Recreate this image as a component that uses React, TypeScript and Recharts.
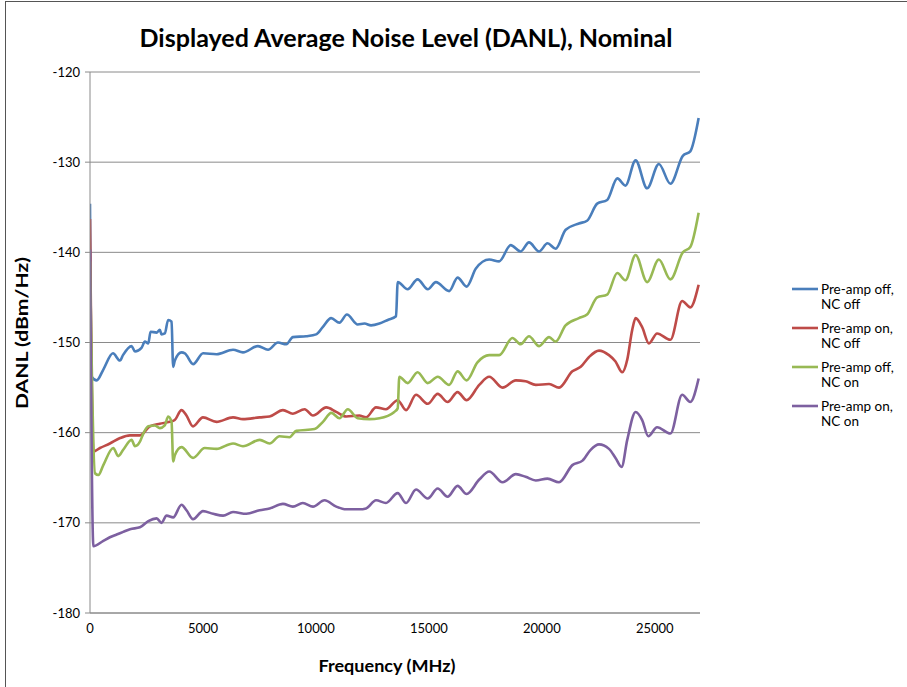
import { LineChart, Line, XAxis, YAxis, CartesianGrid } from 'recharts';

// [frequency MHz, DANL dBm/Hz]
const preampOffNcOff: [number, number][] = [
  [0, -134.6], [75, -153.8], [296, -154.2], [590, -153.0], [1016, -151.2], [1325, -152.0], [1460, -151.4],
  [1840, -150.4], [1990, -151.0], [2280, -150.6], [2430, -149.9], [2580, -150.1], [2680, -148.8], [2945, -148.9],
  [3090, -148.6], [3165, -149.1], [3310, -149.0], [3460, -147.5], [3610, -147.7], [3680, -152.7], [3755, -152.0],
  [4050, -151.1], [4200, -151.2], [4565, -152.4], [5005, -151.2], [5600, -151.3], [6330, -150.8], [6770, -151.1],
  [7435, -150.4], [7880, -150.8], [8320, -150.0], [8690, -150.2], [8980, -149.4], [9570, -149.3], [10010, -149.1],
  [10300, -148.3], [10675, -147.3], [11040, -147.8], [11370, -146.9], [11850, -148.0], [12150, -147.9],
  [12440, -148.1], [12810, -147.9], [13180, -147.5], [13545, -147.1], [13620, -143.3], [14060, -144.1],
  [14500, -143.0], [14950, -144.1], [15310, -143.3], [15900, -144.3], [16270, -142.8], [16670, -143.8],
  [17080, -141.8], [17670, -140.8], [18110, -141.0], [18620, -139.2], [19060, -139.9], [19430, -138.9],
  [19880, -139.9], [20250, -139.0], [20610, -139.6], [21055, -137.5], [21640, -136.8], [22000, -136.5],
  [22450, -134.6], [22890, -134.2], [23340, -131.8], [23700, -132.6], [24150, -129.8], [24660, -132.9],
  [25180, -130.2], [25690, -132.4], [26240, -129.3], [26570, -128.8], [26940, -125.1],
];

const preampOnNcOff: [number, number][] = [
  [0, -136.3], [150, -162.1], [440, -161.7], [880, -161.2], [1330, -160.6], [1770, -160.3], [2210, -160.3],
  [2650, -159.3], [3090, -159.0], [3530, -158.8], [3750, -158.6], [4050, -157.5], [4270, -158.1], [4560, -159.3],
  [5000, -158.3], [5600, -158.8], [6330, -158.3], [6770, -158.5], [7510, -158.3], [7950, -158.2], [8540, -157.5],
  [8980, -157.9], [9500, -157.4], [9870, -158.1], [10460, -157.2], [10900, -157.7], [11340, -158.2],
  [11920, -158.1], [12220, -158.3], [12660, -157.2], [13100, -157.4], [13620, -156.4], [13990, -157.5],
  [14430, -155.8], [14950, -156.8], [15390, -155.7], [15830, -156.6], [16270, -155.5], [16670, -156.4],
  [17230, -154.7], [17670, -153.8], [18260, -155.0], [18850, -154.2], [19280, -154.3], [19730, -154.7],
  [20320, -154.6], [20760, -155.0], [21350, -153.2], [21720, -152.7], [22090, -151.6], [22530, -150.9],
  [22970, -151.4], [23260, -152.1], [23560, -153.3], [23780, -151.9], [24000, -148.6], [24150, -147.3],
  [24440, -148.3], [24740, -150.1], [25100, -149.0], [25690, -149.7], [26210, -145.4], [26570, -146.1],
  [26940, -143.6],
];

const preampOffNcOn: [number, number][] = [
  [0, -141.0], [220, -164.5], [370, -164.7], [590, -163.6], [1030, -161.7], [1250, -162.6], [1470, -161.9],
  [1840, -160.8], [1990, -161.5], [2210, -161.0], [2360, -160.1], [2580, -159.3], [2870, -159.2], [3090, -159.5],
  [3310, -159.2], [3460, -158.2], [3610, -158.8], [3680, -163.2], [3755, -162.5], [4050, -161.6], [4560, -162.8],
  [5080, -161.7], [5600, -161.8], [6330, -161.2], [6770, -161.5], [7510, -160.8], [7950, -161.2], [8390, -160.4],
  [8830, -160.5], [9130, -159.8], [9940, -159.6], [10310, -158.8], [10680, -157.8], [11040, -158.4],
  [11410, -157.4], [11850, -158.4], [12370, -158.5], [12810, -158.4], [13470, -157.7], [13620, -157.3],
  [13690, -153.8], [14060, -154.5], [14500, -153.3], [14950, -154.5], [15390, -153.8], [15900, -154.7],
  [16270, -153.2], [16670, -154.2], [17150, -152.2], [17670, -151.4], [18110, -151.4], [18700, -149.5],
  [19060, -150.2], [19430, -149.3], [19880, -150.4], [20320, -149.4], [20610, -149.9], [21050, -148.1],
  [21640, -147.3], [22000, -146.9], [22450, -145.0], [22890, -144.7], [23340, -142.3], [23700, -143.1],
  [24150, -140.3], [24660, -143.3], [25180, -140.8], [25690, -143.0], [26240, -140.0], [26570, -139.4],
  [26940, -135.6],
];

const preampOnNcOn: [number, number][] = [
  [0, -139.7], [150, -172.6], [590, -172.0], [880, -171.6], [1180, -171.3], [1470, -171.0], [1770, -170.7],
  [2210, -170.5], [2580, -169.8], [2950, -169.5], [3160, -170.0], [3390, -169.2], [3680, -169.4], [4050, -168.0],
  [4270, -168.6], [4560, -169.6], [5000, -168.7], [5450, -169.0], [5890, -169.2], [6330, -168.8], [6920, -169.0],
  [7510, -168.6], [7950, -168.4], [8540, -167.9], [8980, -168.2], [9420, -167.8], [9870, -168.2], [10380, -167.5],
  [10900, -168.2], [11340, -168.5], [11920, -168.5], [12220, -168.4], [12660, -167.5], [13100, -167.8],
  [13620, -166.7], [13990, -167.8], [14430, -166.3], [14950, -167.3], [15390, -166.2], [15830, -167.1],
  [16270, -165.9], [16670, -166.8], [17230, -165.2], [17670, -164.3], [18260, -165.5], [18850, -164.6],
  [19280, -164.9], [19730, -165.3], [20250, -165.1], [20760, -165.5], [21350, -163.6], [21800, -163.1],
  [22160, -161.9], [22530, -161.3], [22970, -161.8], [23260, -162.8], [23530, -163.8], [23780, -160.8],
  [24150, -157.7], [24440, -158.6], [24710, -160.4], [25100, -159.4], [25690, -160.1], [26210, -155.8],
  [26570, -156.6], [26940, -154.0],
];

const seriesNames = ['Pre-amp off, NC off', 'Pre-amp on, NC off', 'Pre-amp off, NC on', 'Pre-amp on, NC on'];
const seriesColors = ['#4a7ebb', '#be4b48', '#98b954', '#7d60a0'];
const seriesData = [preampOffNcOff, preampOnNcOff, preampOffNcOn, preampOnNcOn];

const xTicks = [0, 5000, 10000, 15000, 20000, 25000];
const yTicks = [-180, -170, -160, -150, -140, -130, -120];

const toRows = (pts: [number, number][]) => pts.map(([f, v]) => ({ f, v }));

const font = 'Lato, "Open Sans", sans-serif';

export default function App() {
  return (
    <div style={{ position: 'relative', width: 907, height: 687, overflow: 'hidden', background: '#fff', fontFamily: font }}>
      <style>{'body{margin:0}'}</style>
      <div style={{ position: 'absolute', left: 5, top: 1, width: 1000, height: 1000, border: '1px solid #555' }} />
      <LineChart width={907} height={687} margin={{ top: 72, right: 207, bottom: 44, left: 30 }}>
        <CartesianGrid horizontal vertical={false} stroke="#8a8a8a" />
        <XAxis
          dataKey="f"
          type="number"
          domain={[0, 27000]}
          ticks={xTicks}
          allowDataOverflow
          height={30}
          stroke="#8a8a8a"
          tickLine={false}
          tickSize={0}
          tickMargin={11}
          tick={{ fill: '#000', fontSize: 13, fontFamily: font }}
        />
        <XAxis
          xAxisId="top"
          orientation="top"
          type="number"
          domain={[0, 27000]}
          ticks={xTicks}
          height={0}
          stroke="#8a8a8a"
          tick={false}
          tickSize={4}
        />
        <YAxis
          type="number"
          domain={[-180, -120]}
          ticks={yTicks}
          width={60}
          stroke="#8a8a8a"
          tickSize={5}
          tickMargin={5}
          tick={{ fill: '#000', fontSize: 13, fontFamily: font }}
        />
        {seriesData.map((pts, i) => (
          <Line
            key={seriesNames[i]}
            data={toRows(pts)}
            dataKey="v"
            name={seriesNames[i]}
            type="monotone"
            stroke={seriesColors[i]}
            strokeWidth={2.6}
            dot={false}
            isAnimationActive={false}
          />
        ))}
      </LineChart>
      <svg width={907} height={687} style={{ position: 'absolute', left: 0, top: 0, pointerEvents: 'none' }}>
        <text x={406} y={47} textAnchor="middle" fontSize={24} fontWeight="bold" fontFamily={font} textLength={533} lengthAdjust="spacingAndGlyphs">
          Displayed Average Noise Level (DANL), Nominal
        </text>
        <text x={387} y={672} textAnchor="middle" fontSize={17} fontWeight="bold" fontFamily={font} textLength={137} lengthAdjust="spacingAndGlyphs">
          Frequency (MHz)
        </text>
        <text transform="translate(28,333) rotate(-90)" textAnchor="middle" fontSize={17} fontWeight="bold" fontFamily={font} textLength={152} lengthAdjust="spacingAndGlyphs">
          DANL (dBm/Hz)
        </text>
        {seriesNames.map((name, i) => {
          const [a, b] = name.split(', ');
          const y = 289 + i * 39;
          return (
            <g key={name}>
              <line x1={792} x2={818} y1={y} y2={y} stroke={seriesColors[i]} strokeWidth={2.6} />
              <text x={821} y={y + 5} fontSize={13.5} fontFamily={font}>{a + ','}</text>
              <text x={821} y={y + 20} fontSize={13.5} fontFamily={font}>{b}</text>
            </g>
          );
        })}
      </svg>
    </div>
  );
}
